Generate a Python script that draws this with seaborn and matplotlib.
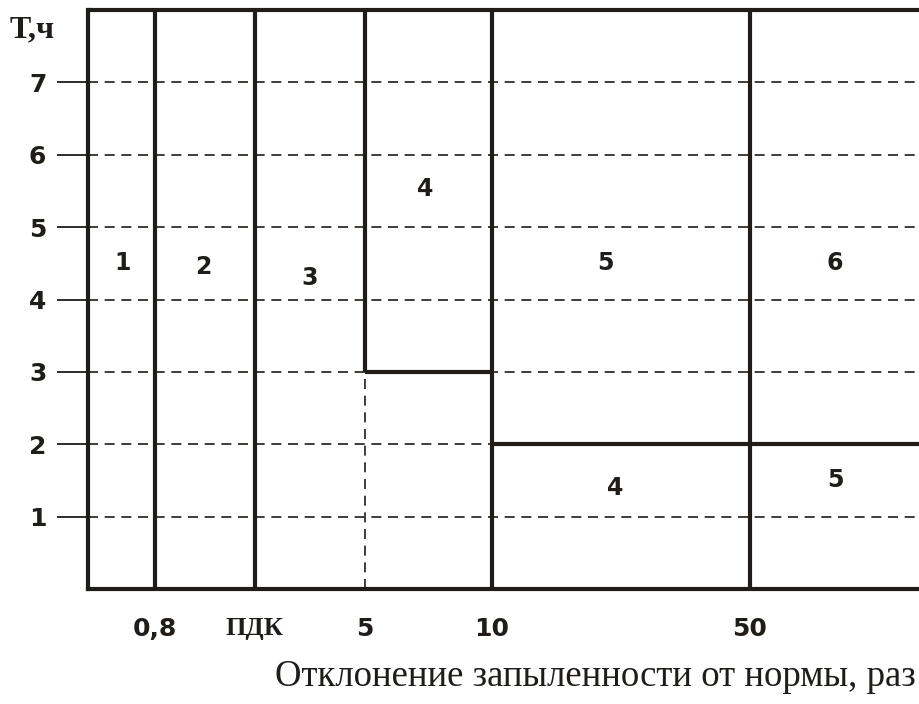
import matplotlib
matplotlib.use("Agg")
import matplotlib.pyplot as plt
import seaborn as sns

# Zone diagram: duration T (hours) vs. dust excess over the norm
# boundaries along x, in schematic axis units (the chart is not to scale)
x_bounds = [0.67, 1.67, 2.77, 4.04, 6.62]
x_labels = ["0,8", "ПДК", "5", "10", "50"]
x_right = 8.32

y_ticks = [1, 2, 3, 4, 5, 6, 7]
y_top = 8

# zone numbers and where they sit
zone_text = ["1", "2", "3", "4", "5", "6", "4", "5"]
zone_x = [0.35, 1.15, 2.22, 3.37, 5.17, 7.47, 5.27, 7.47]
zone_y = [4.5, 4.45, 4.3, 5.53, 4.5, 4.5, 1.39, 1.5]

# step boundaries: zone 4 starts at T=3 for 5..10, T=2 beyond 10
step_y = [3, 2]

sns.set_style("white")
num_font = "DejaVu Sans"

fig = plt.figure(figsize=(9.2, 7.04), dpi=100)
ax = fig.add_axes([88 / 920, 1 - 589 / 704, 1 - 88 / 920, (589 - 10) / 704])
ax.set_xlim(0, x_right)
ax.set_ylim(0, y_top)

black = "#1f1c19"
lw = 3.0

# dashed grid at each hour
ax.hlines(y_ticks, 0, x_right, colors=black, linestyles=(0, (6, 4)), linewidth=1.2)

# solid vertical borders
full = [x_bounds[0], x_bounds[1], x_bounds[3], x_bounds[4]]
ax.vlines(full, 0, y_top, colors=black, linewidth=lw, clip_on=False)
ax.vlines(x_bounds[2], step_y[0], y_top, colors=black, linewidth=lw, clip_on=False)
ax.vlines(x_bounds[2], 0, step_y[0], colors=black, linestyles=(0, (6, 4)), linewidth=1.2)

# horizontal steps
ax.hlines(step_y[0], x_bounds[2], x_bounds[3], colors=black, linewidth=lw)
ax.hlines(step_y[1], x_bounds[3], x_right, colors=black, linewidth=lw)
ax.hlines(y_top, 0, x_right, colors=black, linewidth=lw, clip_on=False)

for s in ["top", "right"]:
    ax.spines[s].set_visible(False)
for s in ["left", "bottom"]:
    ax.spines[s].set_color(black)
    ax.spines[s].set_linewidth(lw)

# y ticks: long outward ticks, bold labels
ax.set_yticks(y_ticks)
ax.set_yticklabels([str(v) for v in y_ticks], fontfamily=num_font,
                   fontweight="bold", fontsize=18, color=black)
ax.tick_params(axis="y", direction="out", length=22, width=1.3, color=black, pad=8, left=True)

# x labels at the zone boundaries, no tick marks
ax.set_xticks(x_bounds)
ax.set_xticklabels(x_labels, fontfamily=num_font, fontweight="bold", fontsize=18, color=black)
ax.tick_params(axis="x", length=0, pad=20)
ax.get_xticklabels()[1].set_fontfamily("Liberation Serif")
ax.get_xticklabels()[1].set_fontsize(19)

for t, xx, yy in zip(zone_text, zone_x, zone_y):
    ax.text(xx, yy, t, ha="center", va="center", fontfamily=num_font,
            fontweight="bold", fontsize=17, color=black)

# axis captions
fig.text(10 / 920, 1 - 30 / 704, "T,ч", fontfamily="Liberation Serif",
         fontweight="bold", fontsize=23, color=black, va="center", ha="left")
fig.text(275 / 920, 1 - 677 / 704, "Отклонение запыленности от нормы, раз",
         fontfamily="Liberation Serif", fontsize=26.5, color=black, va="center", ha="left")

fig.savefig("out.png", dpi=100)
